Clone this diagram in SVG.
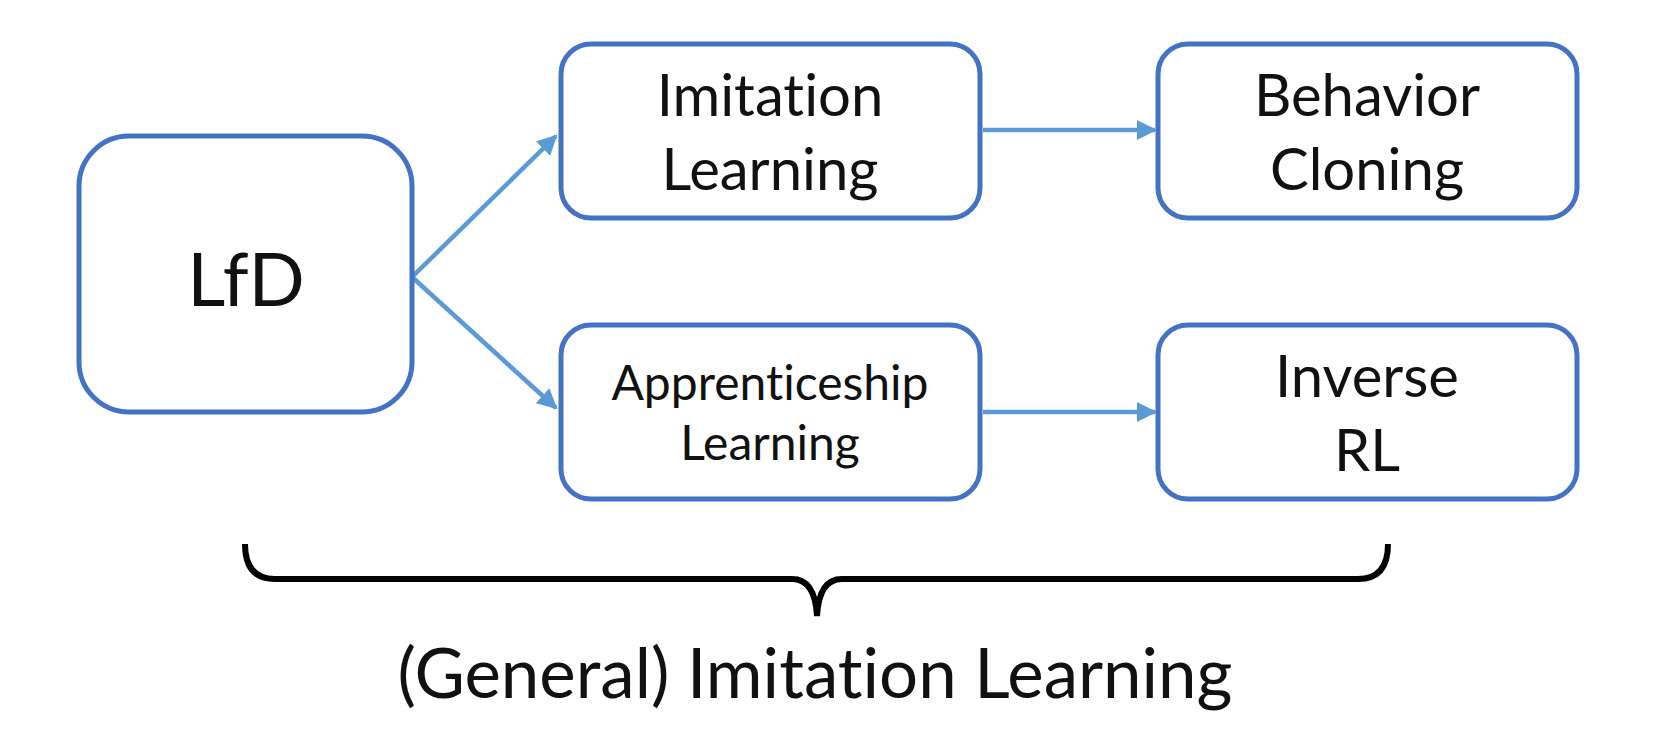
<svg xmlns="http://www.w3.org/2000/svg" width="1657" height="731" viewBox="0 0 1657 731">
<style>
.box{fill:#fff;stroke:#4472C4;stroke-width:5}
.conn{stroke:#5B9BD5;stroke-width:4.5;fill:none}
text{font-family:Lato,"Open Sans",sans-serif;fill:#111;text-anchor:middle;font-variant-ligatures:none;font-feature-settings:"liga" 0}
.big{font-size:58px}
.small{font-size:48px}
</style>
<defs>
<marker id="ah" viewBox="0 0 10 10" refX="9" refY="5" markerWidth="4.5" markerHeight="4.5" orient="auto" markerUnits="strokeWidth">
<path d="M0,0 L10,5 L0,10 z" fill="#5B9BD5"/>
</marker>
</defs>
<rect width="1657" height="731" fill="#fff"/>
<g id="connectors">
<line class="conn" x1="412" y1="277" x2="556" y2="136" marker-end="url(#ah)"/>
<line class="conn" x1="412" y1="277" x2="556" y2="408" marker-end="url(#ah)"/>
<line class="conn" x1="983" y1="130" x2="1155" y2="130" marker-end="url(#ah)"/>
<line class="conn" x1="983" y1="412" x2="1155" y2="412" marker-end="url(#ah)"/>
</g>
<g id="lfd">
<rect class="box" x="79" y="136" width="333" height="276" rx="50"/>
<text x="246" y="306" style="font-size:74px">LfD</text>
</g>
<g id="imitation">
<rect class="box" x="561" y="44" width="419" height="174" rx="30"/>
<text class="big" x="770" y="116">Imitation</text>
<text class="big" x="770" y="190">Learning</text>
</g>
<g id="behavior">
<rect class="box" x="1158" y="44" width="419" height="174" rx="30"/>
<text class="big" x="1367" y="116">Behavior</text>
<text class="big" x="1367" y="190">Cloning</text>
</g>
<g id="apprenticeship">
<rect class="box" x="561" y="325" width="419" height="174" rx="30"/>
<text class="small" x="770" y="400">Apprenticeship</text>
<text class="small" x="770" y="460">Learning</text>
</g>
<g id="inverse">
<rect class="box" x="1158" y="325" width="419" height="174" rx="30"/>
<text class="big" x="1367" y="397">Inverse</text>
<text class="big" x="1367" y="471">RL</text>
</g>
<g id="brace">
<path d="M245,544 Q245,579 275,579 L792,579 Q815,579 817,616 Q819,579 842,579 L1358,579 Q1388,579 1388,544" fill="none" stroke="#000" stroke-width="6"/>
<text x="815" y="698" style="font-size:69px">(General) Imitation Learning</text>
</g>
</svg>
